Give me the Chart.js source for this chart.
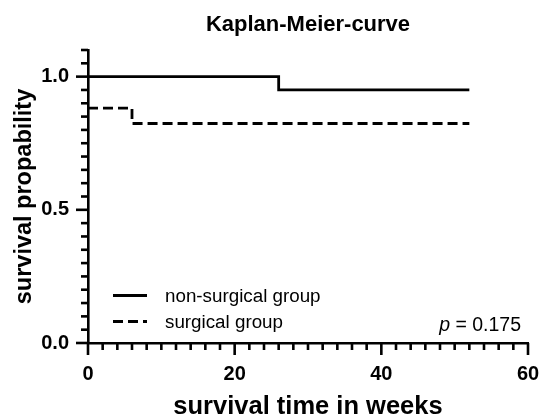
<!DOCTYPE html>
<html>
<head>
<meta charset="utf-8">
<script src="https://cdn.jsdelivr.net/npm/chart.js@4.4.1/dist/chart.umd.min.js"></script>
<style>
  html, body { margin: 0; padding: 0; background: #fff; }
  #wrap { width: 542px; height: 417px; }
</style>
</head>
<body>
<div id="wrap"><canvas id="km" width="542" height="417"></canvas></div>
<script>
// data
const seriesNames = ["non-surgical group", "surgical group"];
const weeksNonSurgical = [0, 26, 52];
const survivalNonSurgical = [1.0, 0.95, 0.95];
const weeksSurgical = [0, 6, 52];
const survivalSurgical = [0.882, 0.824, 0.824];
const xTickLabels = [0, 20, 40, 60];
const yTickLabels = [0, 0.5, 1.0];
const chartTitle = "Kaplan-Meier-curve";
const xTitle = "survival time in weeks";
const yTitle = "survival propability";
const pValue = "0.175";

const FONT = "'Liberation Sans', Arial, sans-serif";

function toPoints(xs, ys) {
  return xs.map((x, i) => ({ x: x, y: ys[i] }));
}

function isLabelled(v, list) {
  return list.some((l) => Math.abs(l - v) < 1e-6);
}

// ticks outside the axes, long ones where there is a label
const axisTicks = {
  id: "axisTicks",
  afterDraw(chart) {
    const ctx = chart.ctx;
    ctx.save();
    ctx.strokeStyle = "#000";
    ctx.lineWidth = 2.6;
    const xs = chart.scales.x;
    xs.ticks.forEach((t) => {
      const px = xs.getPixelForValue(t.value);
      const len = isLabelled(t.value, xTickLabels) ? 12 : 7;
      ctx.beginPath();
      ctx.moveTo(px, xs.top);
      ctx.lineTo(px, xs.top + len);
      ctx.stroke();
    });
    const ys = chart.scales.y;
    ys.ticks.forEach((t) => {
      const py = ys.getPixelForValue(t.value);
      const len = isLabelled(t.value, yTickLabels) ? 12 : 7;
      ctx.beginPath();
      ctx.moveTo(ys.right, py);
      ctx.lineTo(ys.right - len, py);
      ctx.stroke();
    });
    ctx.restore();
  },
};

// title, legend and p value
const annotations = {
  id: "annotations",
  afterDraw(chart) {
    const ctx = chart.ctx;
    const area = chart.chartArea;
    ctx.save();
    ctx.fillStyle = "#000";

    ctx.textBaseline = "middle";
    ctx.font = "bold 22px " + FONT;
    ctx.textAlign = "center";
    ctx.fillText(chartTitle, (area.left + area.right) / 2, 25);

    ctx.textBaseline = "alphabetic";
    const baselines = [302, 328];
    chart.data.datasets.forEach((ds, i) => {
      const yLine = baselines[i] - 6.5;
      ctx.strokeStyle = ds.borderColor;
      ctx.lineWidth = ds.borderWidth;
      ctx.setLineDash(ds.borderDash || []);
      ctx.beginPath();
      ctx.moveTo(113, yLine);
      ctx.lineTo(147, yLine);
      ctx.stroke();
      ctx.setLineDash([]);
      ctx.font = "18.8px " + FONT;
      ctx.textAlign = "left";
      ctx.fillText(ds.label, 165, baselines[i]);
    });

    ctx.textAlign = "right";
    ctx.font = "19.5px " + FONT;
    const rest = " = " + pValue;
    const restW = ctx.measureText(rest).width;
    ctx.fillText(rest, 521, 331);
    ctx.font = "italic 19.5px " + FONT;
    ctx.fillText("p", 521 - restW, 331);
    ctx.restore();
  },
};

const ctx = document.getElementById("km").getContext("2d");
new Chart(ctx, {
  type: "line",
  data: {
    datasets: [
      {
        label: seriesNames[0],
        data: toPoints(weeksNonSurgical, survivalNonSurgical),
        borderColor: "#000",
        borderWidth: 2.8,
        stepped: true,
        pointRadius: 0,
        fill: false,
      },
      {
        label: seriesNames[1],
        data: toPoints(weeksSurgical, survivalSurgical),
        borderColor: "#000",
        borderWidth: 2.8,
        borderDash: [10, 5],
        stepped: true,
        pointRadius: 0,
        fill: false,
      },
    ],
  },
  options: {
    responsive: false,
    animation: false,
    layout: { padding: { top: 50, right: 14, left: 0, bottom: 0 } },
    plugins: {
      legend: { display: false },
      title: { display: false },
      tooltip: { enabled: false },
    },
    scales: {
      x: {
        type: "linear",
        min: 0,
        max: 60,
        afterFit: (s) => {
          s.height = 74;
          s.paddingLeft = 0;
          s.paddingRight = 0;
        },
        border: { display: true, color: "#000", width: 2.6 },
        grid: { display: true, drawOnChartArea: false, color: "rgba(0,0,0,0)", tickLength: 12 },
        ticks: {
          stepSize: 2,
          autoSkip: false,
          maxRotation: 0,
          padding: 7,
          color: "#000",
          font: { family: FONT, size: 20, weight: "bold" },
          callback: (v) => (isLabelled(v, xTickLabels) ? String(v) : ""),
        },
        title: {
          display: true,
          text: xTitle,
          color: "#000",
          font: { family: FONT, size: 25.5, weight: "bold", lineHeight: 0.8 },
          padding: { top: 0, bottom: 0 },
        },
      },
      y: {
        type: "linear",
        min: 0,
        max: 1.1,
        afterFit: (s) => { s.width = 88; },
        border: { display: true, color: "#000", width: 2.6 },
        grid: { display: true, drawOnChartArea: false, color: "rgba(0,0,0,0)", tickLength: 12 },
        ticks: {
          stepSize: 0.05,
          autoSkip: false,
          padding: 7,
          color: "#000",
          font: { family: FONT, size: 20, weight: "bold" },
          callback: (v) => (isLabelled(v, yTickLabels) ? v.toFixed(1) : ""),
        },
        title: {
          display: true,
          text: yTitle,
          color: "#000",
          font: { family: FONT, size: 23.5, weight: "bold", lineHeight: 1 },
          padding: { top: 13, bottom: 0 },
        },
      },
    },
  },
  plugins: [axisTicks, annotations],
});
</script>
</body>
</html>
